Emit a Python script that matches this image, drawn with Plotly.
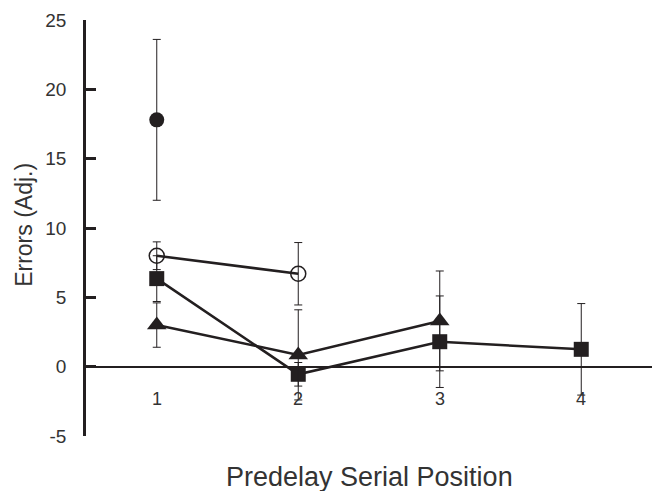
import plotly.graph_objects as go

x_pos = [1, 2, 3, 4]

filled_circle_y = [17.8]
filled_circle_err = [5.8]

open_circle_y = [8.0, 6.7]
open_circle_err = [1.0, 2.25]

square_y = [6.35, -0.55, 1.8, 1.25]
square_err = [1.65, 0.85, 3.3, 3.3]

triangle_y = [3.0, 0.85, 3.3]
triangle_err = [1.6, 3.25, 3.6]

y_ticks = [-5, 0, 5, 10, 15, 20, 25]
y_tick_labels = ["-5", "0", "5", "10", "15", "20", "25"]
x_ticks = [1, 2, 3, 4]
x_tick_labels = ["1", "2", "3", "4"]

INK = "#231f20"
TXT = "#333333"
FONT = "Liberation Sans, Arial, sans-serif"

def err(vals):
    return dict(type="data", array=vals, visible=True, color=INK, thickness=1, width=4)

fig = go.Figure()

fig.add_trace(go.Scatter(
    x=x_pos[:len(square_y)], y=square_y, mode="lines+markers",
    line=dict(color=INK, width=2.5),
    marker=dict(symbol="square", size=15, color=INK),
    error_y=err(square_err), showlegend=False))

fig.add_trace(go.Scatter(
    x=x_pos[:len(triangle_y)], y=triangle_y, mode="lines+markers",
    line=dict(color=INK, width=2.5),
    marker=dict(symbol="triangle-up", size=17, color=INK),
    error_y=err(triangle_err), showlegend=False))

fig.add_trace(go.Scatter(
    x=x_pos[:len(open_circle_y)], y=open_circle_y, mode="lines+markers",
    line=dict(color=INK, width=2.5),
    marker=dict(symbol="circle-open", size=15, color=INK, line=dict(width=1.5, color=INK)),
    error_y=err(open_circle_err), showlegend=False))

fig.add_trace(go.Scatter(
    x=x_pos[:len(filled_circle_y)], y=filled_circle_y, mode="markers",
    marker=dict(symbol="circle", size=15, color=INK),
    error_y=err(filled_circle_err), showlegend=False))

annotations = [
    dict(text=lab, x=xv, y=0, xref="x", yref="y", showarrow=False,
         xanchor="center", yanchor="top", yshift=-20,
         font=dict(size=18, family=FONT, color=TXT))
    for xv, lab in zip(x_ticks, x_tick_labels)
]
annotations += [
    dict(text="Predelay Serial Position", xref="paper", yref="paper",
         x=0.5, y=-0.098, xanchor="center", yanchor="middle", showarrow=False,
         font=dict(size=27, family=FONT, color=TXT)),
    dict(text="Errors (Adj.)", xref="paper", yref="paper",
         x=-0.11, y=0.507, xanchor="center", yanchor="middle", showarrow=False,
         textangle=-90, font=dict(size=23, family=FONT, color=TXT)),
]

fig.update_layout(
    width=656, height=491,
    margin=dict(l=86, r=4, t=20, b=55),
    paper_bgcolor="white", plot_bgcolor="white",
    font=dict(family=FONT, color=INK),
    xaxis=dict(
        range=[0.5, 4.5], showgrid=False, zeroline=False, showline=False,
        showticklabels=False, ticks="",
    ),
    yaxis=dict(
        range=[-5, 25], tickmode="array", tickvals=y_ticks, ticktext=y_tick_labels,
        showgrid=False, zeroline=True, zerolinecolor=INK, zerolinewidth=2,
        showline=True, linecolor=INK, linewidth=2.5,
        ticks="inside", ticklen=10, tickwidth=2.5, tickcolor=INK,
        ticklabelstandoff=13,
        tickfont=dict(size=19, family=FONT, color=TXT),
    ),
    annotations=annotations,
)

fig.write_html("out.html")
